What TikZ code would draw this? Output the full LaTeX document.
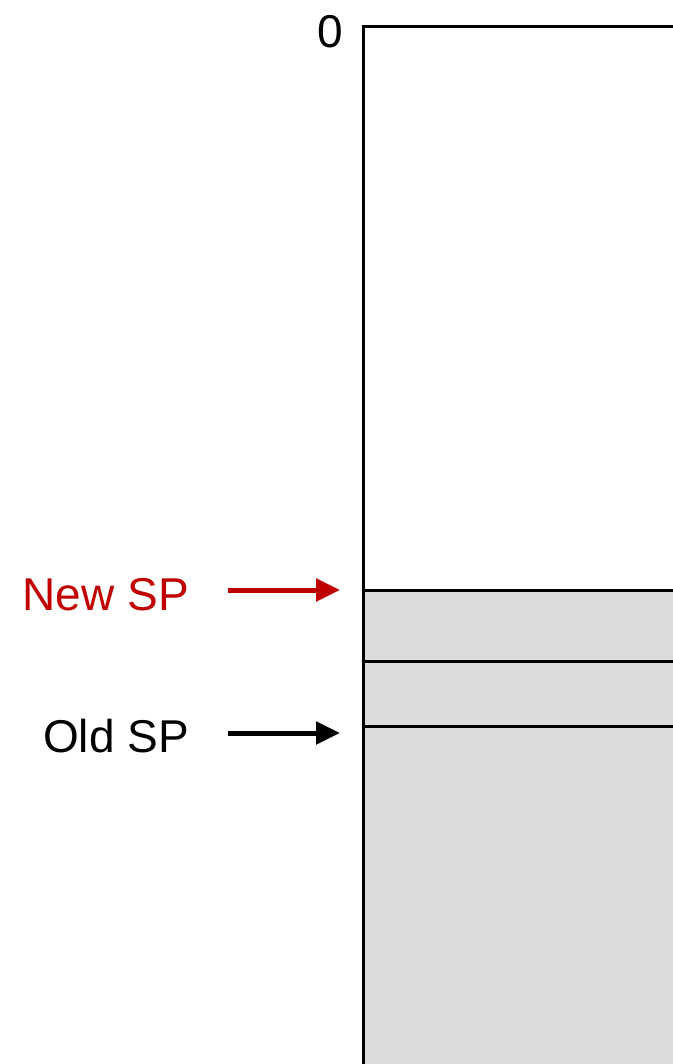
\documentclass[tikz,border=0pt]{standalone}
\usepackage{fontspec}
\setmainfont{Liberation Sans}
\usetikzlibrary{arrows.meta,positioning}
\definecolor{spred}{HTML}{C00000}
\definecolor{stackgray}{HTML}{DCDCDC}

\begin{document}
\begin{tikzpicture}[x=1pt,y=-1pt,
    labeltext/.style={font=\fontsize{46}{54}\selectfont, inner sep=0pt},
    frameline/.style={line width=3pt},
    sparrow/.style={line width=5pt, -{Triangle[length=24pt,width=22pt]}}]
    \useasboundingbox (0,0) rectangle (672,1064);

    % stack area
    \fill[stackgray] (363,590) rectangle (690,1080);
    \draw[frameline] (690,27) -- (363,27) -- (363,1080);
    \foreach \y in {590,661,726} {
        \draw[frameline] (363,\y) -- (690,\y);
    }

    % labels
    \node[labeltext, anchor=base] (zero) at (330,48) {0};
    \node[labeltext, anchor=base east, text=spred] (newsp) at (189,610) {New SP};
    \node[labeltext, anchor=base east] (oldsp) at (189,752) {Old SP};

    % pointers
    \coordinate (newtail) at (228,590);
    \coordinate (newtip) at (340,590);
    \coordinate (oldtail) at (228,733);
    \coordinate (oldtip) at (340,733);
    \draw[sparrow, spred] (newtail) -- (newtip);
    \draw[sparrow] (oldtail) -- (oldtip);
\end{tikzpicture}
\end{document}
